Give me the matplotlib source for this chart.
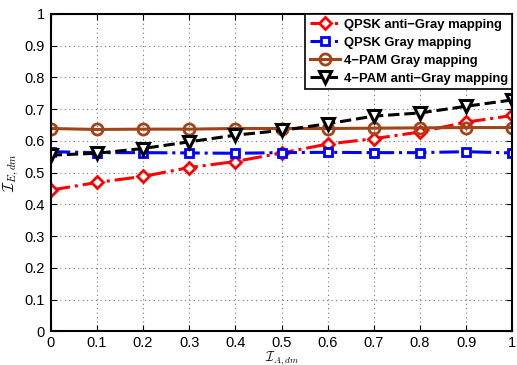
import matplotlib
matplotlib.use("Agg")
import matplotlib.pyplot as plt
import numpy as np

# I_A,dm values
x = [0, 0.1, 0.2, 0.3, 0.4, 0.5, 0.6, 0.7, 0.8, 0.9, 1.0]

# I_E,dm for each mapping
qpsk_anti = [0.445, 0.469, 0.488, 0.516, 0.535, 0.562, 0.590, 0.607, 0.628, 0.659, 0.680]
qpsk_gray = [0.566, 0.563, 0.563, 0.562, 0.561, 0.563, 0.564, 0.563, 0.563, 0.566, 0.562]
pam_gray = [0.639, 0.636, 0.637, 0.637, 0.639, 0.639, 0.639, 0.640, 0.641, 0.642, 0.642]
pam_anti = [0.555, 0.561, 0.576, 0.597, 0.618, 0.633, 0.654, 0.678, 0.688, 0.709, 0.729]

labels = ['QPSK anti\u2212Gray mapping', 'QPSK Gray mapping',
          '4\u2212PAM Gray mapping', '4\u2212PAM anti\u2212Gray mapping']

plt.rcParams['font.family'] = ['Liberation Sans', 'DejaVu Sans']
plt.rcParams['mathtext.fontset'] = 'cm'

fig = plt.figure(figsize=(5.17, 3.65), dpi=100)
ax = fig.add_axes([0.098, 0.092, 0.893, 0.870])

ax.plot(x, qpsk_anti, color='red', linestyle='-.', linewidth=2.2, marker='D',
        markersize=6.5, markerfacecolor='white', markeredgewidth=2, label=labels[0])
ax.plot(x, qpsk_gray, color='blue', linestyle='-.', linewidth=2.2, marker='s',
        markersize=6, markerfacecolor='white', markeredgewidth=2, label=labels[1])
ax.plot(x, pam_gray, color='#A0451A', linestyle='-', linewidth=2.2, marker='o',
        markersize=8, markerfacecolor='none', markeredgewidth=2, label=labels[2])
ax.plot(x, pam_anti, color='black', linestyle='--', linewidth=2.2, marker='v',
        markersize=8, markerfacecolor='white', markeredgewidth=2.2, label=labels[3])

ax.set_xlim(0, 1)
ax.set_ylim(0, 1)
ax.set_xticks(np.arange(0, 1.01, 0.1))
ax.set_yticks(np.arange(0, 1.01, 0.1))
ax.set_xticklabels(['0', '0.1', '0.2', '0.3', '0.4', '0.5', '0.6', '0.7', '0.8', '0.9', '1'])
ax.set_yticklabels(['0', '0.1', '0.2', '0.3', '0.4', '0.5', '0.6', '0.7', '0.8', '0.9', '1'])
ax.tick_params(direction='in', labelsize=10.5, length=4, top=True, right=True, pad=4)
ax.tick_params(axis='x', pad=3)
ax.grid(True, linestyle=(0, (1, 3)), color='#777777', linewidth=0.8)
for s in ax.spines.values():
    s.set_linewidth(1.5)

ax.set_xlabel(r'$\mathcal{I}_{A,dm}$', fontsize=9.5, labelpad=-0.5)
ax.set_ylabel(r'$\mathcal{I}_{E,dm}$', fontsize=11, labelpad=3)

leg = ax.legend(loc='upper right', fancybox=False, edgecolor='black', framealpha=1,
                prop={'weight': 'bold', 'size': 9.4}, borderaxespad=0.0,
                handlelength=2.3, handletextpad=0.3, labelspacing=0.45, borderpad=0.35)
leg.get_frame().set_linewidth(1.2)

fig.savefig('out.png', dpi=100)
